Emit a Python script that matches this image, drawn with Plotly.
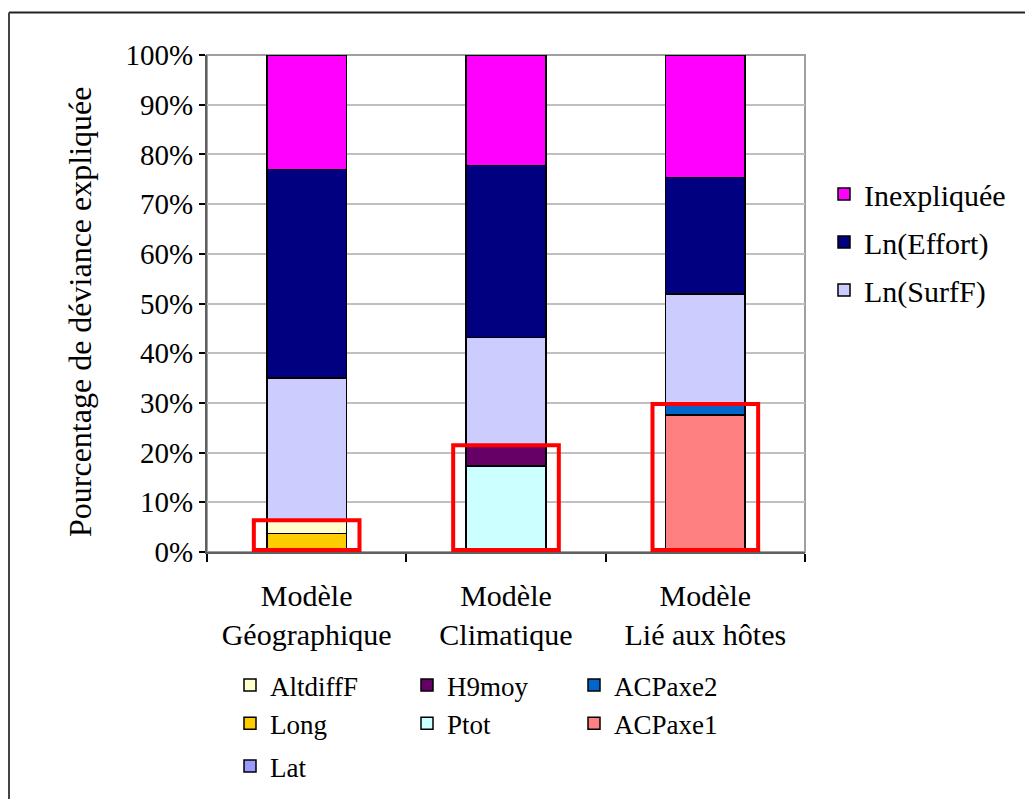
import plotly.graph_objects as go

# Models compared (one stacked column each)
categories = ["Modèle<br>Géographique", "Modèle<br>Climatique", "Modèle<br>Lié aux hôtes"]

# Share of explained deviance (%) per explanatory variable, bottom of stack first
lat = [0.3, None, None]
long_ = [3.4, None, None]
altdifff = [2.7, None, None]
ptot = [None, 17.3, None]
h9moy = [None, 4.2, None]
acpaxe1 = [None, None, 27.6]
acpaxe2 = [None, None, 2.2]
ln_surff = [28.6, 21.7, 22.1]
ln_effort = [42.0, 34.6, 23.5]
inexpliquee = [23.0, 22.2, 24.6]

y_ticks = [0, 10, 20, 30, 40, 50, 60, 70, 80, 90, 100]
y_tick_labels = [f"{v}%" for v in y_ticks]
y_title = "Pourcentage de déviance expliquée"

FONT = "'Liberation Serif', 'Times New Roman', 'DejaVu Serif', serif"
W, H = 1025, 799
ML, MR, MT, MB = 207, 220, 55, 247
PW, PH = W - ML - MR, H - MT - MB

series = [
    ("Lat", lat, "#9999FF", "legend5", 1),
    ("Long", long_, "#FFCC00", "legend2", 2),
    ("AltdiffF", altdifff, "#FFFFCC", "legend2", 1),
    ("Ptot", ptot, "#CCFFFF", "legend3", 2),
    ("H9moy", h9moy, "#660066", "legend3", 1),
    ("ACPaxe1", acpaxe1, "#FF8080", "legend4", 2),
    ("ACPaxe2", acpaxe2, "#0066CC", "legend4", 1),
    ("Ln(SurfF)", ln_surff, "#CCCCFF", "legend", 3),
    ("Ln(Effort)", ln_effort, "#000080", "legend", 2),
    ("Inexpliquée", inexpliquee, "#FF00FF", "legend", 1),
]

fig = go.Figure()
for name, vals, color, leg, rank in series:
    fig.add_trace(go.Bar(
        name=name, x=categories, y=vals,
        marker=dict(color=color, line=dict(color="black", width=1.5)),
        legend=leg, legendgroup=name, legendrank=rank,
    ))

# Red frames around the model-specific variables of each column
specific = [lat, long_, altdifff, ptot, h9moy, acpaxe1, acpaxe2]
shapes = []
for i in range(len(categories)):
    top = sum(s[i] for s in specific if s[i] is not None)
    shapes.append(dict(type="rect", xref="x", yref="y",
                       x0=i - 0.265, x1=i + 0.265, y0=0.4, y1=top,
                       line=dict(color="#FF0000", width=4)))

# Grey plot-area border
shapes.append(dict(type="rect", xref="paper", yref="paper", x0=0, x1=1, y0=0, y1=1,
                   line=dict(color="#A0A0A0", width=2), layer="below"))

# Pixel -> paper coordinate helpers
def px_x(v):
    return (v - ML) / PW

def px_y(v):
    return (H - MB - v) / PH

# Outer frame (top and left edges)
shapes.append(dict(type="line", xref="paper", yref="paper",
                   x0=px_x(9), x1=px_x(W + 5), y0=px_y(12.5), y1=px_y(12.5),
                   line=dict(color="#222222", width=2)))
shapes.append(dict(type="line", xref="paper", yref="paper",
                   x0=px_x(9), x1=px_x(9), y0=px_y(12.5), y1=px_y(H + 5),
                   line=dict(color="#444444", width=2)))

legend_common = dict(bgcolor="rgba(0,0,0,0)", borderwidth=0, orientation="v",
                     xanchor="left", yanchor="top", traceorder="grouped",
                     itemclick=False, itemdoubleclick=False)
bottom_font = dict(family=FONT, size=27)

fig.update_layout(
    width=W, height=H,
    margin=dict(l=ML, r=MR, t=MT, b=MB, pad=0, autoexpand=False),
    paper_bgcolor="white", plot_bgcolor="white",
    barmode="stack", bargap=0.6,
    font=dict(family=FONT, color="black", size=28),
    showlegend=True,
    legend=dict(**legend_common, x=px_x(824), y=px_y(168),
                font=dict(family=FONT, size=30), tracegroupgap=6),
    legend2=dict(**legend_common, x=px_x(230), y=px_y(661),
                 font=bottom_font, tracegroupgap=0),
    legend3=dict(**legend_common, x=px_x(407), y=px_y(661),
                 font=bottom_font, tracegroupgap=0),
    legend4=dict(**legend_common, x=px_x(574), y=px_y(661),
                 font=bottom_font, tracegroupgap=0),
    legend5=dict(**legend_common, x=px_x(230), y=px_y(742),
                 font=bottom_font, tracegroupgap=0),
    xaxis=dict(
        type="category", showgrid=False,
        showline=True, linecolor="#606060", linewidth=2,
        ticks="outside", tickson="boundaries", ticklen=8, tickwidth=1.5, tickcolor="black",
        tickfont=dict(family=FONT, size=30), ticklabelstandoff=16,
    ),
    yaxis=dict(
        range=[0, 100], tickvals=y_ticks, ticktext=y_tick_labels,
        showgrid=True, gridcolor="#C0C0C0", gridwidth=1.5,
        showline=True, linecolor="#606060", linewidth=2,
        ticks="outside", ticklen=6, tickwidth=1.5, tickcolor="black",
        tickfont=dict(family=FONT, size=29),
        zeroline=False,
    ),
    annotations=[dict(text=y_title, textangle=-90, showarrow=False,
                      xref="paper", yref="paper", x=px_x(80), y=px_y(312),
                      xanchor="center", yanchor="middle",
                      font=dict(family=FONT, size=32, color="black"))],
    shapes=shapes,
)

fig.write_html("out.html")
